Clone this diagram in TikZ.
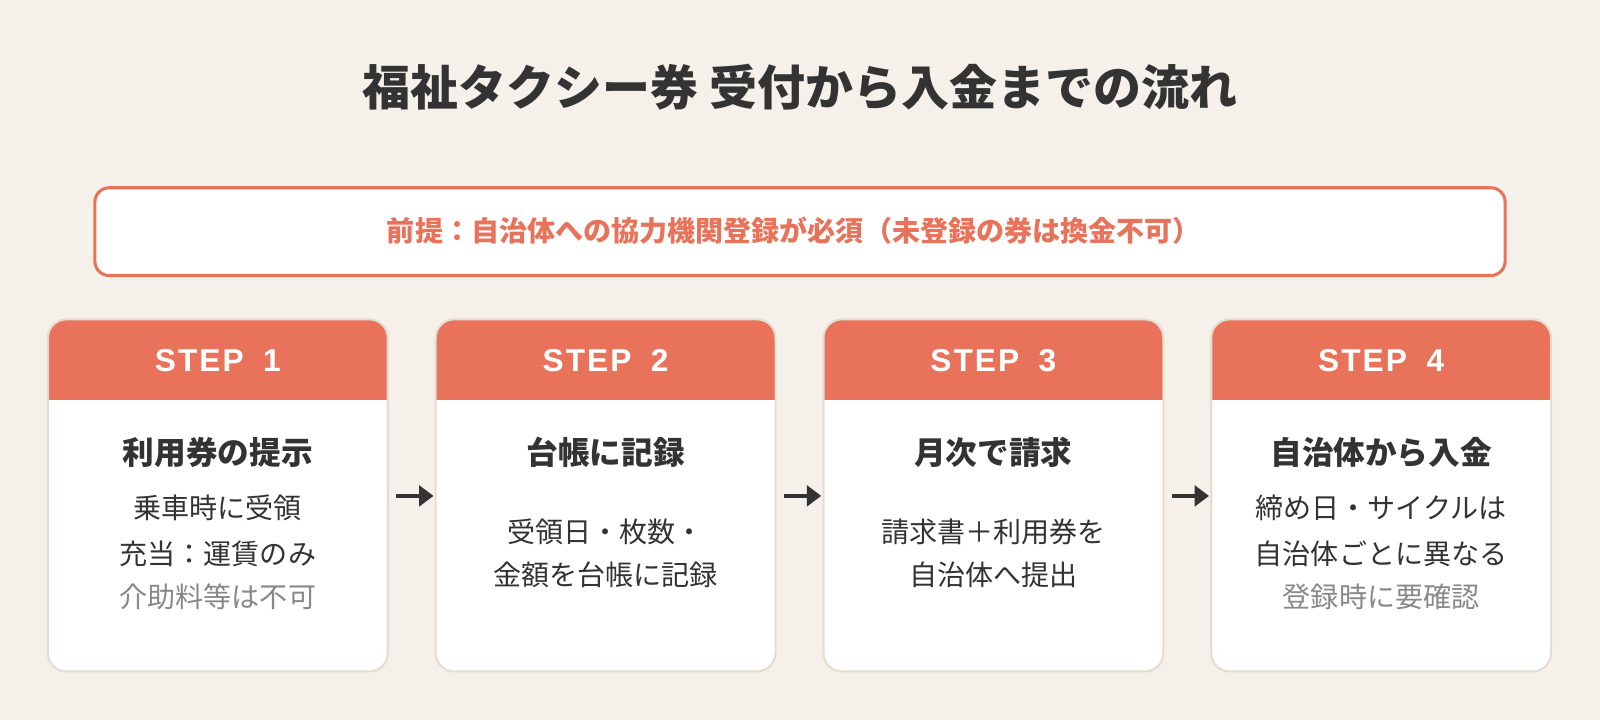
\documentclass[tikz,border=0pt]{standalone}
\usepackage{fontspec}
\setmainfont{Noto Sans CJK JP}
\newfontfamily\stepfont{Liberation Sans}
\usetikzlibrary{arrows.meta}
\definecolor{bg}{HTML}{F5F0EA}
\definecolor{acc}{HTML}{E8735A}
\definecolor{edge}{HTML}{E6DDD0}
\definecolor{ink}{HTML}{333333}
\definecolor{mute}{HTML}{888888}
\begin{document}
\begin{tikzpicture}[x=1pt,y=-1pt,
  card/.style={draw=edge,line width=2pt,fill=white,rounded corners=18pt},
  head/.style={font=\stepfont\fontsize{31}{34}\selectfont\bfseries,text=white},
  ttl/.style={font=\fontsize{31}{36}\selectfont\bfseries,text=ink},
  txt/.style={font=\fontsize{27.5}{32}\selectfont,text=ink},
  grey/.style={font=\fontsize{27.5}{32}\selectfont,text=mute},
  arr/.style={-{Triangle[length=14pt,width=20pt]},line width=4pt,draw=ink,shorten <=8pt,shorten >=2pt}]
\fill[bg] (0,0) rectangle (1568,706);
\useasboundingbox (0,0) rectangle (1568,706);
\node[font=\fontsize{47}{52}\selectfont\bfseries,text=ink] (title) at (784,85) {福祉タクシー券 受付から入金までの流れ};
\draw[draw=acc,line width=3pt,fill=white,rounded corners=14pt] (93,184) rectangle (1475,270);
\node[font=\fontsize{27.5}{32}\selectfont\bfseries,text=acc] (pre) at (778,226) {前提：自治体への協力機関登録が必須（未登録の券は換金不可）};
\foreach \i/\x in {1/47,2/427,3/807,4/1187}{
  \begin{scope}
  \clip[rounded corners=18pt] (\x,313) rectangle (\x+333,658);
  \fill[white] (\x,313) rectangle (\x+333,658);
  \fill[acc] (\x,313) rectangle (\x+333,392);
  \end{scope}
  \draw[card,fill=none] (\x,313) rectangle (\x+333,658);
  \coordinate (c\i) at (\x+166.5,486);
  \node[head] (h\i) at (\x+166.5,353) {S\kern2pt T\kern2pt E\kern2pt P\kern2pt\ \ \i};
}
\node[draw=none,minimum width=333pt,minimum height=345pt] (k1) at (213.5,485.5) {};
\node[draw=none,minimum width=333pt,minimum height=345pt] (k2) at (593.5,485.5) {};
\node[draw=none,minimum width=333pt,minimum height=345pt] (k3) at (973.5,485.5) {};
\node[draw=none,minimum width=333pt,minimum height=345pt] (k4) at (1353.5,485.5) {};
\node[ttl] (t1) at (213.5,443) {利用券の提示};
\node[txt] (a1) at (213.5,498) {乗車時に受領};
\node[txt] (b1) at (213.5,543) {充当：運賃のみ};
\node[grey] (g1) at (213.5,585) {介助料等は不可};
\node[ttl] (t2) at (593.5,443) {台帳に記録};
\node[txt] (a2) at (593.5,521) {受領日・枚数・};
\node[txt] (b2) at (593.5,563) {金額を台帳に記録};
\node[ttl] (t3) at (973.5,443) {月次で請求};
\node[txt] (a3) at (973.5,521) {請求書＋利用券を};
\node[txt] (b3) at (973.5,563) {自治体へ提出};
\node[ttl] (t4) at (1353.5,443) {自治体から入金};
\node[txt] (a4) at (1353.5,498) {締め日・サイクルは};
\node[txt] (b4) at (1353.5,543) {自治体ごとに異なる};
\node[grey] (g4) at (1353.5,585) {登録時に要確認};
\draw[arr] (k1.east|-c1) -- (k2.west|-c2);
\draw[arr] (k2.east|-c2) -- (k3.west|-c3);
\draw[arr] (k3.east|-c3) -- (k4.west|-c4);
\end{tikzpicture}
\end{document}
